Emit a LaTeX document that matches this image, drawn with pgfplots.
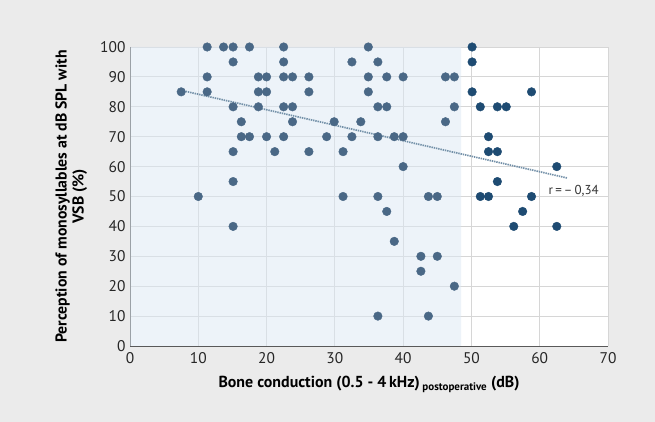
\documentclass[border=0pt]{standalone}
\usepackage{fontspec}
\setmainfont{PT Sans}
\usepackage{pgfplots}
\pgfplotsset{compat=1.18}

\definecolor{pagebg}{HTML}{EBEBEB}
\definecolor{shade}{HTML}{DDE9F5}
\definecolor{ptlight}{HTML}{4A6886}
\definecolor{ptdark}{HTML}{1E4B72}
\definecolor{trend}{HTML}{7390A8}
\definecolor{gridc}{HTML}{D6D6D6}

\begin{document}
\begin{tikzpicture}
  \fill[pagebg] (0,0) rectangle (655bp,422bp);
  \begin{axis}[
    at={(130bp,76bp)}, anchor=south west,
    scale only axis,
    width=478bp, height=299bp,
    xmin=0, xmax=70, ymin=0, ymax=100,
    xtick={0,10,...,70}, ytick={0,10,...,100},
    major tick length=0pt,
    axis x line*=bottom, axis y line*=left,
    axis line style={draw=black!65, line width=0.9pt},
    axis background/.style={fill=white},
    grid=major,
    grid style={draw=gridc, line width=0.9pt},
    /pgf/number format/assume math mode=true,
    every tick label/.append style={font=\fontsize{15.5}{17}\selectfont, text=black!85},
    yticklabel style={xshift=-1bp},
    xticklabel style={yshift=-3bp},
    xlabel={\textbf{Bone conduction (0.5 - 4\,kHz)}\,{\fontsize{11}{12}\selectfont\raisebox{-0.55ex}{\textbf{postoperative}}} \textbf{(dB)}},
    xlabel style={at={(axis description cs:0.5,-0.13)}, anchor=center, font=\fontsize{16}{18}\selectfont},
    ylabel={\textbf{Perception of monosyllables at dB SPL with}\\\textbf{VSB (\%)}},
    ylabel style={at={(axis description cs:-0.123,0.5)}, anchor=center, align=center, font=\fontsize{15.8}{17}\selectfont},
  ]
    % shaded region (translucent so the grid shows through)
    \addplot[fill=shade, fill opacity=0.5, draw=none]
      coordinates {(0,0) (48.5,0) (48.5,100) (0,100)} \closedcycle;

    % trend line
    \addplot[trend, line width=1.7pt, dash pattern=on 1.4pt off 0.9pt]
      coordinates {(7.5,85.5) (64,56.2)};

    % points in shaded region
    \addplot[only marks, mark=*, mark size=4.3bp, ptlight, mark options={draw=ptlight, fill=ptlight}]
      coordinates {
        (11.3,100)(13.7,100)(15.1,100)(17.5,100)(22.5,100)(34.9,100)
        (15.1,95)(22.5,95)(32.5,95)(36.3,95)
        (11.3,90)(18.8,90)(20.0,90)(22.5,90)(23.8,90)(26.2,90)(34.9,90)(37.6,90)(40.0,90)(46.2,90)(47.5,90)
        (7.5,85)(11.3,85)(18.8,85)(20.0,85)(26.2,85)(34.9,85)
        (15.1,80)(18.8,80)(22.5,80)(23.8,80)(36.3,80)(37.6,80)(47.5,80)
        (16.3,75)(23.8,75)(29.9,75)(33.8,75)(46.2,75)
        (16.3,70)(17.5,70)(20.0,70)(22.5,70)(28.8,70)(32.5,70)(36.3,70)(38.7,70)(40.0,70)
        (15.1,65)(21.2,65)(26.2,65)(31.2,65)
        (40.0,60)
        (15.1,55)
        (10.0,50)(31.2,50)(36.3,50)(43.7,50)(45.0,50)
        (37.6,45)
        (15.1,40)
        (38.7,35)
        (42.6,30)(45.0,30)
        (42.6,25)
        (47.5,20)
        (36.3,10)(43.7,10)
      };

    % points outside shaded region
    \addplot[only marks, mark=*, mark size=4.3bp, ptdark, mark options={draw=ptdark, fill=ptdark}]
      coordinates {
        (50.1,100)(50.1,95)(50.1,85)(58.8,85)
        (51.3,80)(53.8,80)(55.1,80)
        (52.5,70)(52.5,65)(53.8,65)
        (62.5,60)(53.8,55)
        (51.3,50)(52.5,50)(58.8,50)
        (57.5,45)(56.2,40)(62.5,40)
      };

    \node[anchor=west, font=\fontsize{13}{15}\selectfont, text=black!80]
      at (axis cs:60.8,51.8) {r\,=\,–\,0,34};
  \end{axis}
\end{tikzpicture}
\end{document}
